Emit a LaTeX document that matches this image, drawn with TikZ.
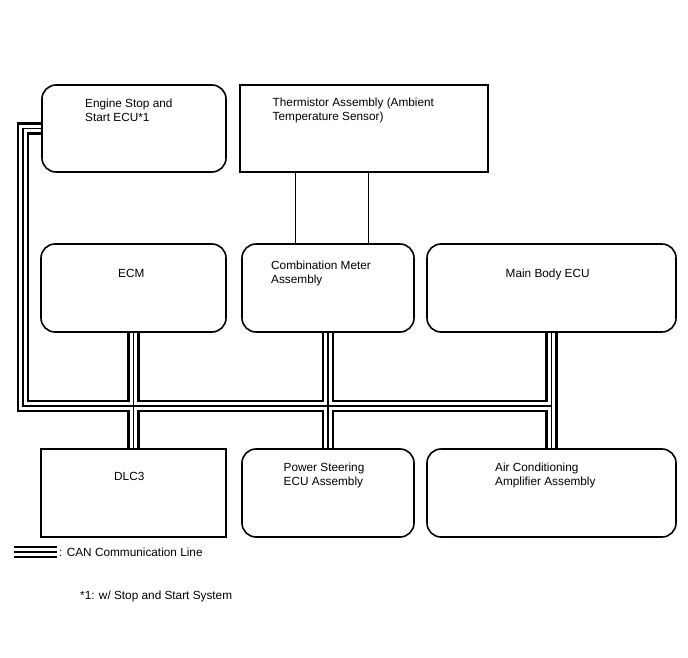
\documentclass[tikz,border=0pt]{standalone}
\usepackage{fontspec}
\setmainfont{Liberation Sans}
\usetikzlibrary{positioning}

\begin{document}
\begin{tikzpicture}[
  x=1pt, y=-1pt,
  ecu/.style={rectangle, draw, line width=1.6pt, rounded corners=14pt, fill=white, inner sep=0pt},
  part/.style={rectangle, draw, line width=1.6pt, fill=white, inner sep=0pt},
  txt/.style={anchor=base west, align=left, inner sep=0pt, font=\fontsize{11.8}{14}\selectfont},
  wire/.style={line width=0.8pt}
]
\useasboundingbox (0,0) rectangle (688,658);

% positions of the CAN corners and the legend
\coordinate (bl) at (23,406);
\coordinate (br) at (551.5,406);
\coordinate (leg1) at (14,552);
\coordinate (leg2) at (57,552);

% boxes (empty here, drawn again after the bus)
\path (134,128.5) node[minimum width=184pt, minimum height=87pt] (eng) {};
\path (133.5,288) node[minimum width=185pt, minimum height=88pt] (ecm) {};
\path (328,288) node[minimum width=172pt, minimum height=88pt] (comb) {};
\path (551.5,288) node[minimum width=249pt, minimum height=88pt] (main) {};
\path (133.5,493) node[minimum width=185pt, minimum height=88pt] (dlc) {};
\path (328,493) node[minimum width=172pt, minimum height=88pt] (ps) {};
\path (551.5,493) node[minimum width=249pt, minimum height=88pt] (ac) {};

% CAN bus: black, white, black
\foreach \w/\c in {12.5/black, 7.4/white, 1.2/black}
  \draw[line width=\w pt, \c] (eng.west) -| (bl) -- (br)
    (ecm.south) -- (dlc.north)
    (comb.south) -- (ps.north)
    (main.south) -- (ac.north)
    (leg1) -- (leg2);

\node[ecu, minimum width=184pt, minimum height=87pt] at (eng) {};
\node[part, minimum width=248pt, minimum height=87pt] (therm) at (364,128.5) {};
\node[ecu, minimum width=185pt, minimum height=88pt] at (ecm) {};
\node[ecu, minimum width=172pt, minimum height=88pt] at (comb) {};
\node[ecu, minimum width=249pt, minimum height=88pt] at (main) {};
\node[part, minimum width=185pt, minimum height=88pt] at (dlc) {};
\node[ecu, minimum width=172pt, minimum height=88pt] at (ps) {};
\node[ecu, minimum width=249pt, minimum height=88pt] at (ac) {};

\draw[wire] ([xshift=-33pt]comb.north) -- ([xshift=-33pt]comb.north |- therm.south);
\draw[wire] ([xshift=40pt]comb.north) -- ([xshift=40pt]comb.north |- therm.south);

% two-line labels sit on their last baseline
\node[txt] (tEng) at (85,121.5) {Engine Stop and\\Start ECU*1};
\node[txt] (tTherm) at (272.5,120.5) {Thermistor Assembly (Ambient\\Temperature Sensor)};
\node[txt] (tEcm) at (118,277.5) {ECM};
\node[txt] (tComb) at (271,283) {Combination Meter\\Assembly};
\node[txt] (tMain) at (505.5,277.5) {Main Body ECU};
\node[txt] (tDlc) at (114,480) {DLC3};
\node[txt] (tPs) at (283.5,485.7) {Power Steering\\ECU Assembly};
\node[txt] (tAc) at (495,485.7) {Air Conditioning\\Amplifier Assembly};

\node[txt, right=2pt of leg2, anchor=west] (tLeg) {: CAN Communication Line};
\node[txt] (tNote) at (80,599) {*1: w/ Stop and Start System};
\end{tikzpicture}
\end{document}
